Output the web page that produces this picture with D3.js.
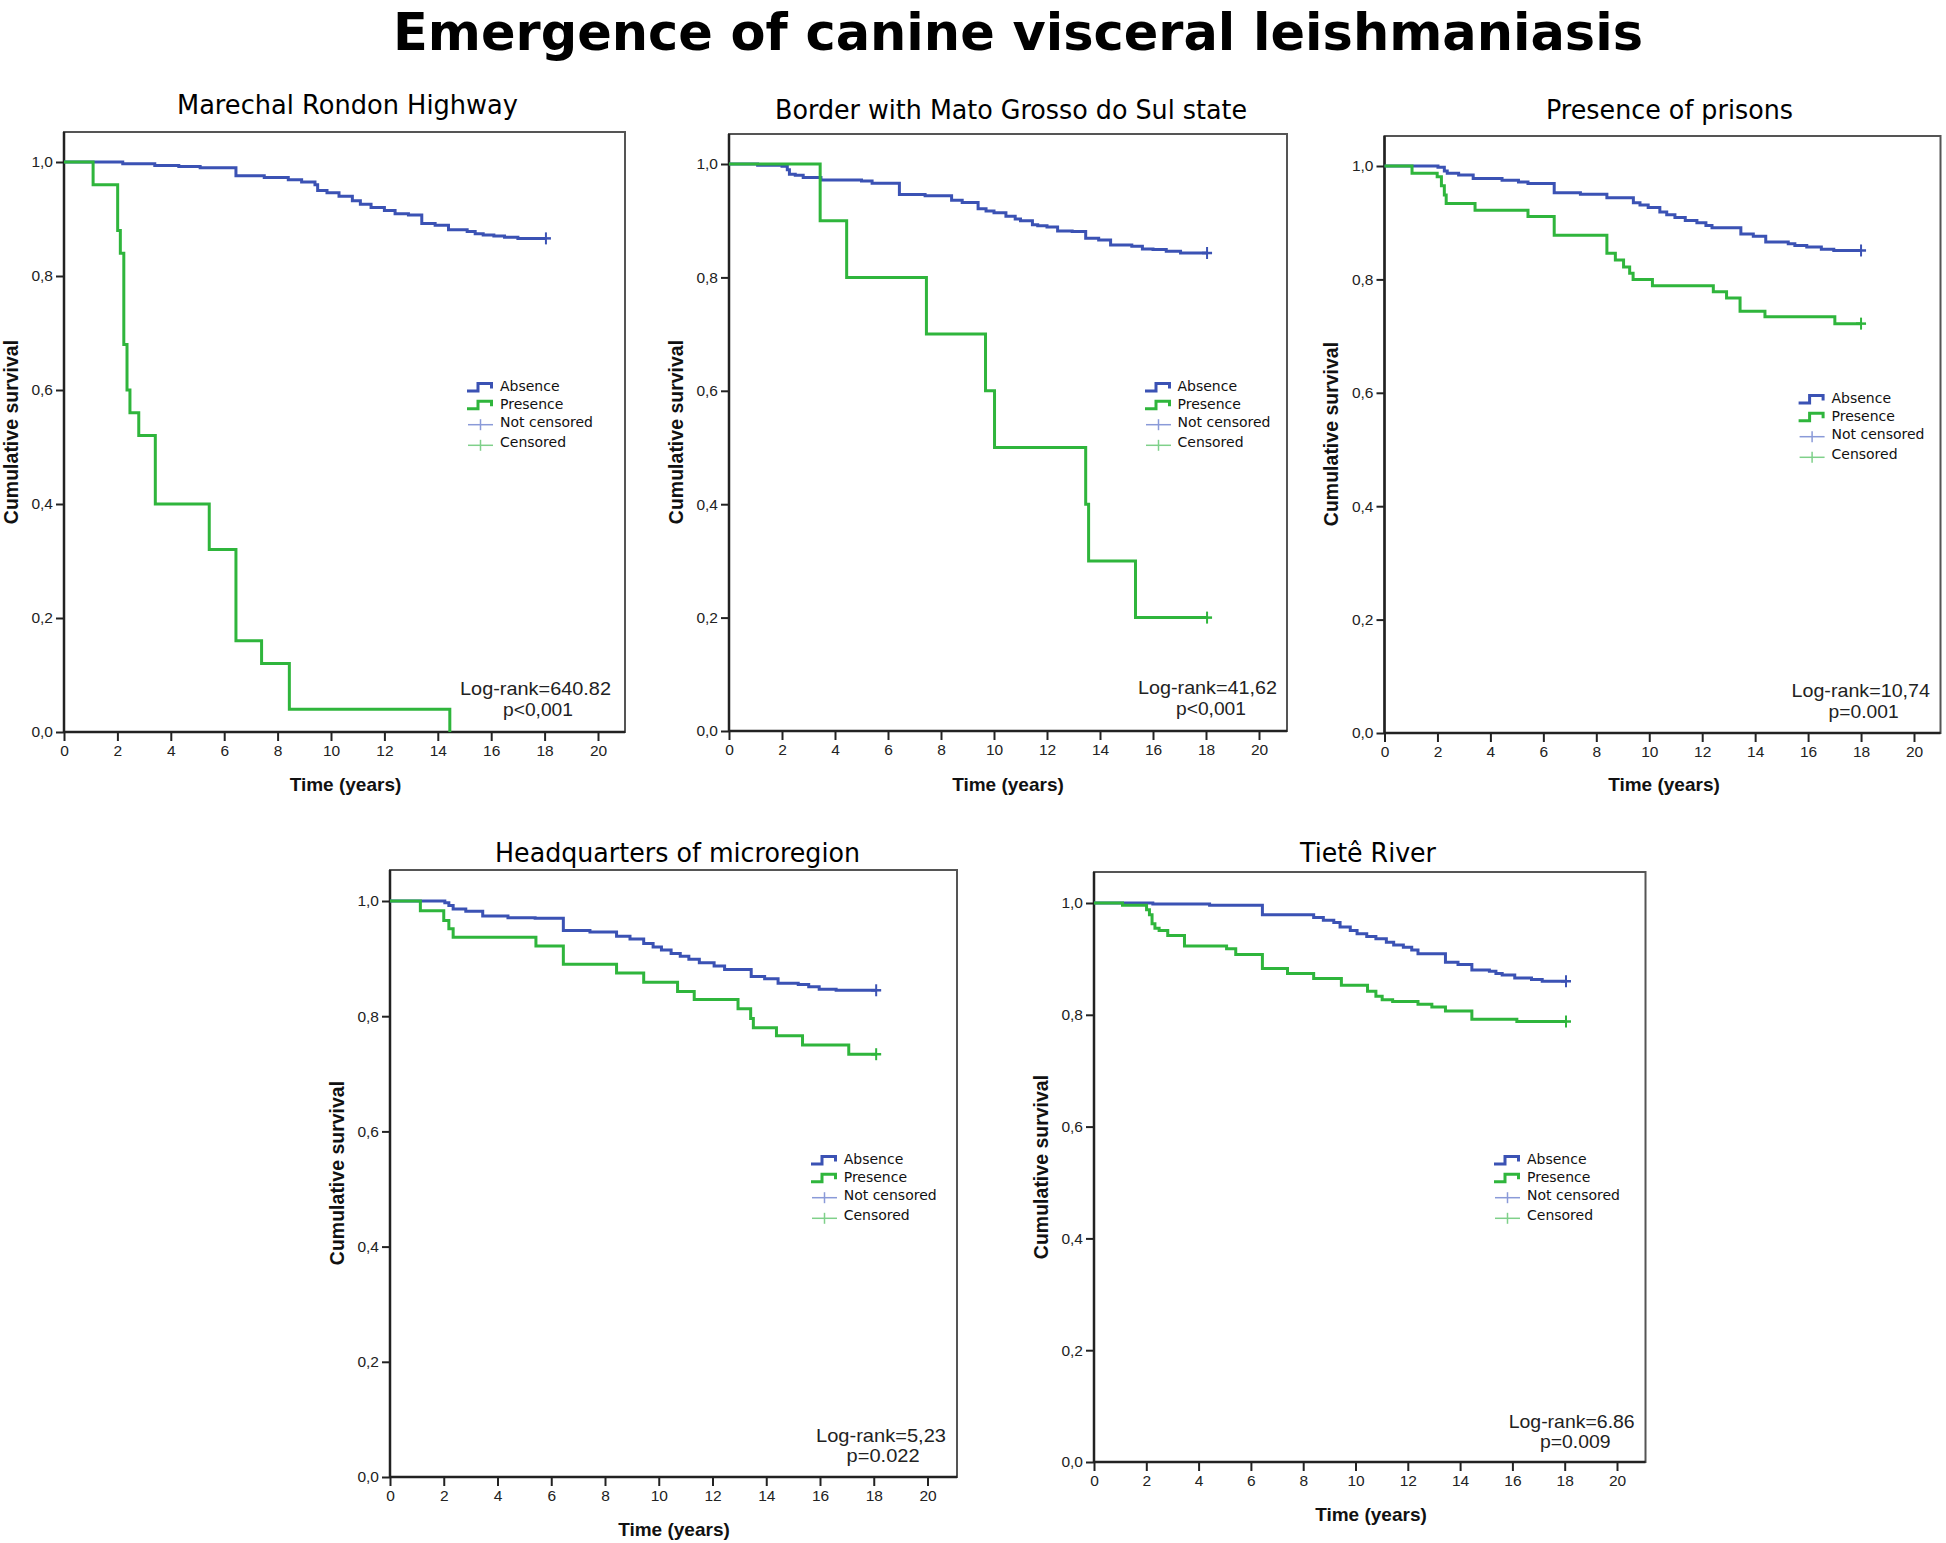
<!DOCTYPE html>
<html>
<head>
<meta charset="utf-8">
<script src="https://cdn.jsdelivr.net/npm/d3@7"></script>
<style>
  html, body { margin: 0; padding: 0; background: #fff; }
  svg { display: block; }
</style>
</head>
<body>
<svg id="chart" width="1946" height="1543"></svg>
<script>
// ---------------- DATA ----------------
const mainTitle = "Emergence of canine visceral leishmaniasis";
const panelTitles = ["Marechal Rondon Highway", "Border with Mato Grosso do Sul state", "Presence of prisons", "Headquarters of microregion", "Tietê River"];
const logRankTexts = ["Log-rank=640.82", "Log-rank=41,62", "Log-rank=10,74", "Log-rank=5,23", "Log-rank=6.86"];
const pValueTexts = ["p<0,001", "p<0,001", "p=0.001", "p=0.022", "p=0.009"];
const legendLabels = ["Absence", "Presence", "Not censored", "Censored"];
const xTickValues = [0, 2, 4, 6, 8, 10, 12, 14, 16, 18, 20];
const yTickValues = [0, 0.2, 0.4, 0.6, 0.8, 1.0];
const xAxisLabel = "Time (years)";
const yAxisLabel = "Cumulative survival";

// [time (years), cumulative survival]
const absenceMarechal = [[0,1],[2.2,0.997],[3.4,0.994],[4.3,0.992],[5.1,0.99],[6.44,0.976],[7.5,0.973],[8.4,0.969],[8.9,0.965],[9.4,0.96],[9.5,0.95],[9.85,0.946],[10.3,0.94],[10.8,0.932],[11.1,0.926],[11.5,0.92],[12.0,0.915],[12.4,0.909],[12.9,0.907],[13.4,0.892],[13.9,0.889],[14.4,0.881],[15.1,0.878],[15.4,0.874],[15.7,0.872],[16.1,0.87],[16.5,0.868],[17.0,0.866],[18.05,0.866]];
const presenceMarechal = [[0,1],[1.09,0.96],[2.01,0.88],[2.11,0.84],[2.24,0.68],[2.36,0.60],[2.47,0.56],[2.80,0.52],[3.42,0.40],[5.44,0.32],[6.44,0.16],[7.40,0.12],[8.44,0.04],[14.45,0]];

const absenceBorder = [[0,1],[1.08,0.998],[2.0,0.996],[2.2,0.99],[2.28,0.982],[2.5,0.98],[2.8,0.976],[3.47,0.972],[5.0,0.97],[5.4,0.966],[6.43,0.946],[7.4,0.944],[8.4,0.936],[8.8,0.932],[9.4,0.921],[9.7,0.917],[10.0,0.914],[10.45,0.908],[10.8,0.903],[11.0,0.9],[11.45,0.893],[11.65,0.891],[12.0,0.889],[12.4,0.882],[12.95,0.881],[13.46,0.869],[13.95,0.866],[14.4,0.857],[15.2,0.855],[15.6,0.85],[16.0,0.849],[16.5,0.846],[17.04,0.843],[18.04,0.843]];
const presenceBorder = [[0,1],[3.44,0.9],[4.44,0.8],[7.45,0.7],[9.68,0.6],[10.02,0.5],[13.46,0.4],[13.57,0.3],[15.34,0.2],[18.04,0.2]];

const absencePrisons = [[0,1],[2.02,0.998],[2.26,0.991],[2.37,0.987],[2.8,0.984],[3.35,0.978],[4.44,0.975],[5.06,0.972],[5.42,0.969],[6.41,0.953],[7.4,0.95],[8.4,0.944],[9.4,0.935],[9.65,0.931],[9.96,0.927],[10.4,0.919],[10.66,0.914],[10.97,0.909],[11.36,0.904],[11.8,0.9],[12.14,0.895],[12.37,0.891],[13.46,0.88],[13.93,0.876],[14.4,0.866],[15.25,0.863],[15.5,0.86],[15.95,0.857],[16.5,0.853],[16.97,0.851],[18.0,0.851]];
const presencePrisons = [[0,1],[1.04,0.987],[1.99,0.981],[2.15,0.965],[2.26,0.949],[2.33,0.934],[3.42,0.922],[5.42,0.911],[6.41,0.878],[8.4,0.846],[8.72,0.834],[9.03,0.822],[9.26,0.811],[9.39,0.80],[10.12,0.789],[12.42,0.778],[12.92,0.767],[13.43,0.744],[14.37,0.734],[17.01,0.722],[18.0,0.722]];

const absenceHeadquarters = [[0,1],[2.04,0.997],[2.19,0.992],[2.35,0.986],[2.82,0.982],[3.45,0.974],[4.39,0.971],[5.4,0.97],[6.45,0.949],[7.44,0.946],[8.43,0.939],[8.93,0.934],[9.44,0.926],[9.79,0.92],[10.1,0.915],[10.46,0.909],[10.8,0.904],[11.12,0.899],[11.51,0.893],[12.06,0.887],[12.45,0.881],[13.44,0.869],[13.94,0.865],[14.44,0.857],[15.19,0.855],[15.58,0.851],[15.97,0.847],[16.6,0.845],[18.09,0.845]];
const presenceHeadquarters = [[0,1],[1.13,0.983],[2.0,0.966],[2.19,0.952],[2.35,0.937],[5.43,0.922],[6.45,0.89],[8.43,0.875],[9.44,0.859],[10.7,0.843],[11.32,0.829],[12.95,0.813],[13.42,0.796],[13.52,0.78],[14.38,0.766],[15.35,0.75],[17.07,0.734],[18.09,0.734]];

const absenceTiete = [[0,1],[2.25,0.998],[4.42,0.996],[6.44,0.979],[8.4,0.974],[8.77,0.969],[9.17,0.965],[9.41,0.957],[9.8,0.951],[10.06,0.945],[10.43,0.94],[10.78,0.936],[11.18,0.93],[11.46,0.925],[11.83,0.921],[12.15,0.916],[12.39,0.909],[13.44,0.894],[13.92,0.89],[14.45,0.88],[15.12,0.878],[15.37,0.874],[15.61,0.871],[16.09,0.866],[16.73,0.863],[17.14,0.86],[18.05,0.86]];
const presenceTiete = [[0,1],[1.09,0.996],[2.01,0.988],[2.12,0.979],[2.22,0.963],[2.33,0.955],[2.49,0.951],[2.82,0.942],[3.46,0.923],[5.07,0.918],[5.42,0.908],[6.44,0.883],[7.4,0.874],[8.4,0.865],[9.46,0.853],[10.46,0.842],[10.78,0.833],[11.02,0.827],[11.42,0.824],[12.39,0.819],[12.92,0.814],[13.44,0.807],[14.45,0.792],[16.17,0.788],[18.05,0.788]];

const absenceSeries = [absenceMarechal, absenceBorder, absencePrisons, absenceHeadquarters, absenceTiete];
const presenceSeries = [presenceMarechal, presenceBorder, presencePrisons, presenceHeadquarters, presenceTiete];

// ---------------- LAYOUT / STYLE ----------------
const BLUE = "#3b52b4", GREEN = "#2fb53c", LBLUE = "#8a9ad8", LGREEN = "#7fd08a";
const layout = [
  {frame:[64,132,625,732],   xr:[64,598],     yr:[732,162],   title:[177,114,341],   xl:[345.5,791],  yl:[11,432],   lr:[460,695,151],   pv:[503,716,70],   lg:[467,500,391]},
  {frame:[729,134,1287,731], xr:[729,1259],   yr:[731,164],   title:[775,119,472],   xl:[1008,791],   yl:[676,432],  lr:[1138,694,139],  pv:[1176,714.5,70],lg:[1145,1177.5,391]},
  {frame:[1384.5,136,1940.5,733], xr:[1384.5,1914], yr:[733,166], title:[1546,119,247], xl:[1664,791], yl:[1331,434], lr:[1791.5,696.6,138.5], pv:[1828.6,718,70], lg:[1798.6,1831.5,403]},
  {frame:[390,870,957,1477], xr:[390,927.5],  yr:[1477,901],  title:[495,861.5,365], xl:[674,1536],   yl:[337,1173], lr:[816,1441.5,130], pv:[846.6,1462,73],lg:[811,843.7,1164]},
  {frame:[1094,872,1645.5,1462], xr:[1094,1617], yr:[1462,903], title:[1300,861.5,136], xl:[1371,1521], yl:[1041,1167], lr:[1508.7,1427.7,126], pv:[1540,1448,70.6], lg:[1494,1527,1164]}
];

const svg = d3.select("#chart");
svg.append("rect").attr("width",1946).attr("height",1543).attr("fill","#fff");

svg.append("text")
  .attr("x", 393).attr("y", 50)
  .attr("textLength", 1250).attr("lengthAdjust", "spacingAndGlyphs")
  .style("font-family", "'DejaVu Sans', Verdana, sans-serif")
  .style("font-weight", "bold").style("font-size", "52px")
  .attr("fill", "#000")
  .text(mainTitle);

const fmt = d => d3.format(".1f")(d).replace(".", ",");

layout.forEach((L, i) => {
  const g = svg.append("g");
  const x = d3.scaleLinear().domain([0, 20]).range(L.xr);
  const y = d3.scaleLinear().domain([0, 1]).range(L.yr);
  const [fl, ft, fr, fb] = L.frame;

  // frame
  g.append("rect").attr("x", fl).attr("y", ft).attr("width", fr - fl).attr("height", fb - ft)
    .attr("fill", "none").attr("stroke", "#555").attr("stroke-width", 2);

  // axes
  const xa = g.append("g").attr("transform", `translate(0,${fb})`)
    .call(d3.axisBottom(x).tickValues(xTickValues).tickFormat(d3.format("d")).tickSize(9).tickPadding(4).tickSizeOuter(0));
  const ya = g.append("g").attr("transform", `translate(${fl},0)`)
    .call(d3.axisLeft(y).tickValues(yTickValues).tickFormat(fmt).tickSize(8).tickPadding(3).tickSizeOuter(0));
  [xa, ya].forEach(a => {
    a.select(".domain").remove();
    a.selectAll(".tick line").attr("stroke", "#222").attr("stroke-width", 2);
    a.selectAll(".tick text").attr("fill", "#222")
      .style("font-family", "'Liberation Sans', Arial, sans-serif").style("font-size", "15.5px");
  });
  g.append("line").attr("x1", fl).attr("x2", fr).attr("y1", fb).attr("y2", fb).attr("stroke", "#222").attr("stroke-width", 2.5);
  g.append("line").attr("x1", fl).attr("x2", fl).attr("y1", ft).attr("y2", fb).attr("stroke", "#222").attr("stroke-width", 2.5);

  // curves
  const line = d3.line().x(d => x(d[0])).y(d => y(d[1])).curve(d3.curveStepAfter);
  [[absenceSeries[i], BLUE], [presenceSeries[i], GREEN]].forEach(([data, col]) => {
    g.append("path").datum(data).attr("d", line)
      .attr("fill", "none").attr("stroke", col).attr("stroke-width", 3);
    const last = data[data.length - 1];
    if (last[1] > 0) {
      const cx = x(last[0]), cy = y(last[1]);
      g.append("line").attr("x1", cx).attr("x2", cx).attr("y1", cy - 6).attr("y2", cy + 6)
        .attr("stroke", col).attr("stroke-width", 2);
      g.append("line").attr("x1", cx - 5).attr("x2", cx + 5).attr("y1", cy).attr("y2", cy)
        .attr("stroke", col).attr("stroke-width", 2.5);
    }
  });

  // panel title
  g.append("text").attr("x", L.title[0]).attr("y", L.title[1])
    .attr("textLength", L.title[2]).attr("lengthAdjust", "spacingAndGlyphs")
    .style("font-family", "'DejaVu Sans', Verdana, sans-serif").style("font-size", "26px")
    .attr("fill", "#000").text(panelTitles[i]);

  // axis labels
  g.append("text").attr("x", L.xl[0]).attr("y", L.xl[1]).attr("text-anchor", "middle")
    .style("font-family", "'Liberation Sans', Arial, sans-serif").style("font-weight", "bold").style("font-size", "19px")
    .attr("fill", "#111").text(xAxisLabel);
  g.append("text").attr("transform", `translate(${L.yl[0] + 7},${L.yl[1]}) rotate(-90)`).attr("text-anchor", "middle")
    .style("font-family", "'Liberation Sans', Arial, sans-serif").style("font-weight", "bold").style("font-size", "19.5px")
    .attr("fill", "#111").text(yAxisLabel);

  // log-rank annotation
  g.append("text").attr("x", L.lr[0]).attr("y", L.lr[1]).attr("textLength", L.lr[2]).attr("lengthAdjust", "spacingAndGlyphs")
    .style("font-family", "'Liberation Sans', Arial, sans-serif").style("font-size", "19px")
    .attr("fill", "#222").text(logRankTexts[i]);
  g.append("text").attr("x", L.pv[0]).attr("y", L.pv[1]).attr("textLength", L.pv[2]).attr("lengthAdjust", "spacingAndGlyphs")
    .style("font-family", "'Liberation Sans', Arial, sans-serif").style("font-size", "19px")
    .attr("fill", "#222").text(pValueTexts[i]);

  // legend
  const [sx, tx, by] = L.lg;
  const rowOff = [0, 17.7, 35.7, 56.3];
  const lg = g.append("g");
  legendLabels.forEach((lab, k) => {
    const b = by + rowOff[k];
    if (k < 2) {
      const col = k === 0 ? BLUE : GREEN;
      lg.append("path")
        .attr("d", `M${sx},${b} H${sx + 11} V${b - 7.5} H${sx + 24.5} V${b - 2.5}`)
        .attr("fill", "none").attr("stroke", col).attr("stroke-width", 3);
    } else {
      const col = k === 2 ? LBLUE : LGREEN;
      const cy = b - 2;
      lg.append("line").attr("x1", sx + 1).attr("x2", sx + 26).attr("y1", cy).attr("y2", cy)
        .attr("stroke", col).attr("stroke-width", 1.5);
      lg.append("line").attr("x1", sx + 13.5).attr("x2", sx + 13.5).attr("y1", cy - 5.5).attr("y2", cy + 5.5)
        .attr("stroke", col).attr("stroke-width", 1.5);
    }
    lg.append("text").attr("x", tx).attr("y", b)
      .style("font-family", "'DejaVu Sans', Verdana, sans-serif").style("font-size", "14px")
      .attr("fill", "#111").text(lab);
  });
});
</script>
</body>
</html>
